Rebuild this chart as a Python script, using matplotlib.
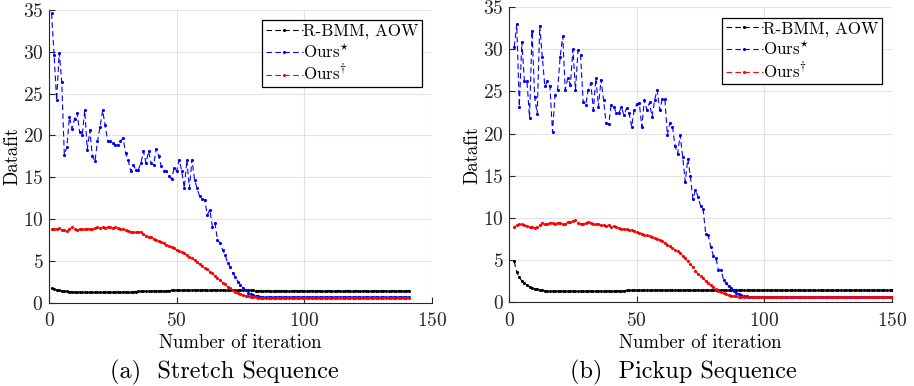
import numpy as np
import matplotlib
matplotlib.use('Agg')
import matplotlib.pyplot as plt

plt.rcParams['font.family'] = 'serif'
plt.rcParams['font.serif'] = ['cmr10']
plt.rcParams['mathtext.fontset'] = 'cm'
plt.rcParams['axes.formatter.use_mathtext'] = True

labels = ['R-BMM, AOW', r'Ours$^{\star}$', r'Ours$^{\dagger}$']

# (a) Stretch sequence, iterations 1..141
black_stretch = [
    1.70, 1.60, 1.52, 1.46, 1.41, 1.37, 1.34, 1.31, 1.29, 1.27,
    1.26, 1.25, 1.24, 1.23, 1.23, 1.22, 1.22, 1.22, 1.23, 1.23,
    1.24, 1.24, 1.25, 1.26, 1.27, 1.27, 1.28, 1.29, 1.30, 1.30,
    1.31, 1.32, 1.33, 1.33, 1.34, 1.35, 1.36, 1.37, 1.38, 1.38,
    1.39, 1.40, 1.41, 1.42, 1.43, 1.44, 1.45, 1.46, 1.47, 1.47,
    1.48, 1.49, 1.50, 1.50, 1.51, 1.51, 1.52, 1.52, 1.53, 1.53,
    1.53, 1.53, 1.53, 1.53, 1.52, 1.52, 1.52, 1.51, 1.51, 1.50,
    1.50, 1.49, 1.49, 1.48, 1.48, 1.47, 1.47, 1.46, 1.46, 1.46,
    1.45, 1.45, 1.45, 1.45, 1.45, 1.44, 1.44, 1.44, 1.44, 1.44,
    1.44, 1.44, 1.44, 1.44, 1.44, 1.44, 1.44, 1.44, 1.44, 1.44,
    1.44, 1.44, 1.44, 1.44, 1.44, 1.44, 1.44, 1.44, 1.44, 1.44,
    1.44, 1.44, 1.44, 1.44, 1.44, 1.44, 1.44, 1.44, 1.44, 1.44,
    1.44, 1.44, 1.44, 1.44, 1.44, 1.44, 1.44, 1.44, 1.44, 1.44,
    1.44, 1.44, 1.44, 1.44, 1.44, 1.44, 1.44, 1.44, 1.44, 1.44,
    1.44,
]
blue_stretch = [
    34.6, 29.6, 24.2, 29.9, 26.4, 17.7, 18.6, 22.2, 20.8, 22.0,
    22.7, 20.4, 20.0, 23.0, 18.3, 20.6, 17.5, 16.9, 19.3, 21.0,
    23.0, 21.2, 19.3, 19.3, 19.1, 18.9, 18.8, 19.3, 19.7, 17.9,
    17.1, 15.7, 16.5, 15.9, 15.9, 16.7, 18.1, 16.7, 18.1, 16.7,
    16.5, 18.4, 17.5, 16.3, 15.8, 15.8, 15.1, 14.8, 16.1, 15.7,
    17.1, 15.7, 13.7, 17.1, 13.7, 17.1, 14.7, 13.7, 12.7, 12.4,
    12.3, 10.5, 11.1, 9.1, 9.5, 7.5, 7.1, 6.3, 5.7, 4.7,
    4.3, 3.5, 3.1, 2.5, 2.1, 1.8, 1.5, 1.2, 1.0, 0.9,
    0.80, 0.75, 0.70, 0.68, 0.66, 0.65, 0.65, 0.65, 0.65, 0.65,
    0.65, 0.65, 0.65, 0.65, 0.65, 0.65, 0.65, 0.65, 0.65, 0.65,
    0.65, 0.65, 0.65, 0.65, 0.65, 0.65, 0.65, 0.65, 0.65, 0.65,
    0.65, 0.65, 0.65, 0.65, 0.65, 0.65, 0.65, 0.65, 0.65, 0.65,
    0.65, 0.65, 0.65, 0.65, 0.65, 0.65, 0.65, 0.65, 0.65, 0.65,
    0.65, 0.65, 0.65, 0.65, 0.65, 0.65, 0.65, 0.65, 0.65, 0.65,
    0.65,
]
red_stretch = [
    8.8, 8.8, 8.8, 8.9, 8.7, 8.7, 8.6, 8.8, 9.0, 8.8,
    8.7, 8.8, 8.8, 8.8, 8.8, 8.8, 8.8, 8.9, 9.0, 8.9,
    9.0, 8.9, 9.1, 9.0, 8.9, 9.0, 8.9, 8.8, 8.8, 8.7,
    8.6, 8.5, 8.5, 8.4, 8.5, 8.4, 8.2, 8.0, 7.9, 7.8,
    7.6, 7.5, 7.4, 7.2, 7.1, 6.9, 6.8, 6.6, 6.5, 6.3,
    6.2, 6.0, 5.9, 5.7, 5.5, 5.3, 5.1, 4.8, 4.6, 4.4,
    4.2, 4.0, 3.7, 3.5, 3.2, 3.0, 2.7, 2.4, 2.2, 1.9,
    1.7, 1.5, 1.3, 1.15, 1.0, 0.9, 0.8, 0.75, 0.7, 0.65,
    0.62, 0.60, 0.60, 0.60, 0.60, 0.60, 0.60, 0.60, 0.60, 0.60,
    0.60, 0.60, 0.60, 0.60, 0.60, 0.60, 0.60, 0.60, 0.60, 0.60,
    0.60, 0.60, 0.60, 0.60, 0.60, 0.60, 0.60, 0.60, 0.60, 0.60,
    0.60, 0.60, 0.60, 0.60, 0.60, 0.60, 0.60, 0.60, 0.60, 0.60,
    0.60, 0.60, 0.60, 0.60, 0.60, 0.60, 0.60, 0.60, 0.60, 0.60,
    0.60, 0.60, 0.60, 0.60, 0.60, 0.60, 0.60, 0.60, 0.60, 0.60,
    0.60,
]

# (b) Pickup sequence, iterations 2..150
black_pickup = [
    4.8, 3.5, 2.9, 2.5, 2.2, 2.0, 1.8, 1.65, 1.55, 1.47,
    1.40, 1.36, 1.33, 1.31, 1.29, 1.28, 1.27, 1.26, 1.26, 1.25,
    1.25, 1.25, 1.25, 1.25, 1.25, 1.25, 1.26, 1.26, 1.27, 1.27,
    1.28, 1.28, 1.29, 1.29, 1.30, 1.30, 1.31, 1.31, 1.32, 1.32,
    1.33, 1.33, 1.34, 1.34, 1.35, 1.35, 1.36, 1.36, 1.37, 1.37,
    1.38, 1.38, 1.38, 1.39, 1.39, 1.39, 1.40, 1.40, 1.40, 1.41,
    1.41, 1.41, 1.42, 1.42, 1.42, 1.42, 1.42, 1.42, 1.42, 1.42,
    1.42, 1.42, 1.42, 1.42, 1.41, 1.41, 1.41, 1.40, 1.40, 1.40,
    1.39, 1.39, 1.39, 1.38, 1.38, 1.38, 1.38, 1.38, 1.38, 1.38,
    1.38, 1.38, 1.38, 1.38, 1.38, 1.38, 1.38, 1.38, 1.38, 1.38,
    1.38, 1.38, 1.38, 1.38, 1.38, 1.38, 1.38, 1.38, 1.38, 1.38,
    1.38, 1.38, 1.38, 1.38, 1.38, 1.38, 1.38, 1.38, 1.38, 1.38,
    1.38, 1.38, 1.38, 1.38, 1.38, 1.38, 1.38, 1.38, 1.38, 1.38,
    1.38, 1.38, 1.38, 1.38, 1.38, 1.38, 1.38, 1.38, 1.38, 1.38,
    1.38, 1.38, 1.38, 1.38, 1.38, 1.38, 1.38, 1.38, 1.38,
]
blue_pickup = [
    30.3, 33.0, 23.2, 30.9, 26.2, 26.2, 21.9, 32.2, 24.4, 22.3,
    32.8, 29.1, 25.6, 26.2, 25.6, 20.2, 24.6, 25.2, 29.1, 31.6,
    25.2, 26.6, 25.8, 30.0, 25.2, 29.9, 29.3, 23.8, 23.4, 25.2,
    26.0, 22.8, 26.6, 23.2, 26.4, 24.0, 21.2, 21.1, 23.4, 23.2,
    22.4, 22.5, 23.1, 22.2, 23.0, 22.4, 20.8, 22.8, 23.5, 23.6,
    20.8, 24.0, 22.8, 23.7, 22.0, 24.0, 25.2, 22.8, 24.1, 24.1,
    19.8, 21.3, 20.8, 18.5, 17.6, 19.8, 17.2, 14.3, 17.0, 14.9,
    12.2, 13.3, 12.5, 11.4, 11.0, 8.1, 7.9, 6.5, 5.5, 5.2,
    3.8, 3.8, 2.6, 2.2, 1.9, 1.7, 1.3, 1.1, 0.9, 0.8,
    0.70, 0.65, 0.60, 0.58, 0.56, 0.55, 0.55, 0.55, 0.55, 0.55,
    0.55, 0.55, 0.55, 0.55, 0.55, 0.55, 0.55, 0.55, 0.55, 0.55,
    0.55, 0.55, 0.55, 0.55, 0.55, 0.55, 0.55, 0.55, 0.55, 0.55,
    0.55, 0.55, 0.55, 0.55, 0.55, 0.55, 0.55, 0.55, 0.55, 0.55,
    0.55, 0.55, 0.55, 0.55, 0.55, 0.55, 0.55, 0.55, 0.55, 0.55,
    0.55, 0.55, 0.55, 0.55, 0.55, 0.55, 0.55, 0.55, 0.55,
]
red_pickup = [
    8.9, 9.1, 9.2, 9.2, 9.1, 9.0, 8.9, 8.9, 8.8, 8.9,
    9.1, 9.4, 9.3, 9.3, 9.4, 9.4, 9.3, 9.4, 9.4, 9.3,
    9.2, 9.5, 9.5, 9.6, 9.7, 9.4, 9.3, 9.3, 9.4, 9.5,
    9.4, 9.3, 9.3, 9.2, 9.1, 9.1, 9.0, 9.1, 8.9, 9.0,
    8.9, 8.8, 8.7, 8.6, 8.6, 8.5, 8.5, 8.4, 8.3, 8.2,
    8.1, 8.0, 7.9, 7.8, 7.7, 7.6, 7.5, 7.3, 7.2, 7.0,
    6.8, 6.6, 6.4, 6.2, 6.0, 5.8, 5.5, 5.2, 4.8, 4.5,
    4.1, 3.7, 3.3, 3.05, 2.8, 2.5, 2.2, 1.95, 1.75, 1.5,
    1.3, 1.15, 1.0, 0.9, 0.8, 0.75, 0.7, 0.65, 0.6, 0.58,
    0.55, 0.53, 0.52, 0.52, 0.52, 0.52, 0.52, 0.52, 0.52, 0.52,
    0.52, 0.52, 0.52, 0.52, 0.52, 0.52, 0.52, 0.52, 0.52, 0.52,
    0.52, 0.52, 0.52, 0.52, 0.52, 0.52, 0.52, 0.52, 0.52, 0.52,
    0.52, 0.52, 0.52, 0.52, 0.52, 0.52, 0.52, 0.52, 0.52, 0.52,
    0.52, 0.52, 0.52, 0.52, 0.52, 0.52, 0.52, 0.52, 0.52, 0.52,
    0.52, 0.52, 0.52, 0.52, 0.52, 0.52, 0.52, 0.52, 0.52,
]

it_stretch = np.arange(1, len(blue_stretch)+1)
it_pickup = np.arange(2, len(blue_pickup)+2)

fig = plt.figure(figsize=(9.14, 3.86), dpi=100)
ax1 = fig.add_axes([0.0536, 0.216, 0.419, 0.758])
ax2 = fig.add_axes([0.557, 0.218, 0.419, 0.763])

def draw(ax, it, blk, blu, red, caption, cap_x):
    kw = dict(ls=(0, (5, 3)), lw=0.8, marker='.', ms=2.5)
    ax.plot(it, blk, color='k', label=labels[0], **kw)
    ax.plot(it, blu, color='b', label=labels[1], **kw)
    ax.plot(it, red, color='r', label=labels[2], **kw)
    ax.set_xlim(0, 150)
    ax.set_ylim(0, 35)
    ax.set_xticks([0, 50, 100, 150])
    ax.set_yticks(np.arange(0, 36, 5))
    ax.grid(True, color='#e3e3e3', lw=0.8)
    ax.set_axisbelow(True)
    for s in ['top', 'right']:
        ax.spines[s].set_visible(False)
    for s in ['left', 'bottom']:
        ax.spines[s].set_color('#262626')
        ax.spines[s].set_linewidth(0.8)
    ax.tick_params(direction='in', length=4, width=0.8, labelsize=14,
                   colors='#262626')
    ax.tick_params(axis='x', pad=7)
    ax.tick_params(axis='y', pad=4)
    ax.set_xlabel('Number of iteration', fontsize=13.5, labelpad=3)
    ax.set_ylabel('Datafit', fontsize=13.5, labelpad=1)
    leg = ax.legend(loc='upper right', fontsize=12.2, numpoints=1,
                    fancybox=False, edgecolor='k', framealpha=1,
                    handlelength=2.2, handletextpad=0.0,
                    borderaxespad=0.6, borderpad=0.2, labelspacing=0.18)
    leg.get_frame().set_linewidth(0.9)
    fig.text(cap_x, 0.036, caption, ha='center', va='center', fontsize=17.5)

draw(ax1, it_stretch, black_stretch, blue_stretch, red_stretch,
     '(a)  Stretch Sequence', 0.245)
draw(ax2, it_pickup, black_pickup, blue_pickup, red_pickup,
     '(b)  Pickup Sequence', 0.748)

fig.savefig('out.png', dpi=100)
